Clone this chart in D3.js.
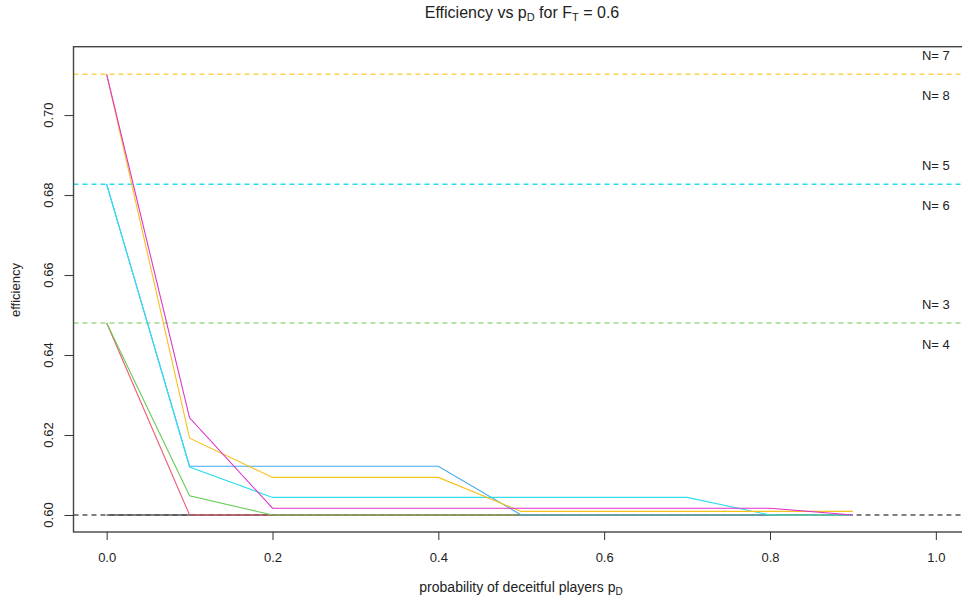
<!DOCTYPE html>
<html>
<head>
<meta charset="utf-8">
<script src="https://cdn.jsdelivr.net/npm/d3@7"></script>
<style>
  body { margin: 0; background: #fff; }
  text { font-family: "Liberation Sans", Arial, sans-serif; fill: #222; }
</style>
</head>
<body>
<div id="chart"></div>
<script>
// probability of deceitful players
var pD = [0, 0.1, 0.2, 0.3, 0.4, 0.5, 0.6, 0.7, 0.8, 0.9];

// efficiency per number of players
var effN2 = [0.600, 0.600, 0.600, 0.600, 0.600, 0.600, 0.600, 0.600, 0.600, 0.600];
var effN3 = [0.648, 0.600, 0.600, 0.600, 0.600, 0.600, 0.600, 0.600, 0.600, 0.600];
var effN4 = [0.648, 0.6048, 0.600, 0.600, 0.600, 0.600, 0.600, 0.600, 0.600, 0.600];
var effN5 = [0.6827, 0.6122, 0.6122, 0.6122, 0.6122, 0.600, 0.600, 0.600, 0.600];
var effN6 = [0.6827, 0.6120, 0.6044, 0.6044, 0.6044, 0.6044, 0.6044, 0.6044, 0.600, 0.600];
var effN7 = [0.7102, 0.6192, 0.6094, 0.6094, 0.6094, 0.6009, 0.6009, 0.6009, 0.6009, 0.6009];
var effN8 = [0.7102, 0.6243, 0.6017, 0.6017, 0.6017, 0.6017, 0.6017, 0.6017, 0.6017, 0.600];

// limit efficiency (dashed reference lines)
var limitVals = [0.600, 0.648, 0.6827, 0.7102];
var limitLabels = [["", "N= 2"], ["N= 3", "N= 4"], ["N= 5", "N= 6"], ["N= 7", "N= 8"]];

var xTicks = [0, 0.2, 0.4, 0.6, 0.8, 1.0];
var yTicks = [0.60, 0.62, 0.64, 0.66, 0.68, 0.70];

var series = [
  { vals: effN2, color: "#555555" },
  { vals: effN3, color: "#EE5A70" },
  { vals: effN4, color: "#66CC55" },
  { vals: effN5, color: "#44AAEE" },
  { vals: effN6, color: "#33DDEE" },
  { vals: effN7, color: "#F5C21B" },
  { vals: effN8, color: "#DD33CC" }
];
var limitColors = ["#555555", "#99DD88", "#22DDEE", "#FFD24D"];

var width = 962, height = 600;

var svg = d3.select("#chart").append("svg")
  .attr("width", width)
  .attr("height", height);

//Scales
var x = d3.scaleLinear().domain([-0.04, 1.04]).range([73.5, 969]);
var y = d3.scaleLinear().domain([0.59575, 0.7171]).range([532, 46.7]);

svg.append("clipPath").attr("id", "plot-clip")
  .append("rect")
  .attr("x", x(-0.04)).attr("y", y(0.7171))
  .attr("width", x(1.04) - x(-0.04)).attr("height", y(0.59575) - y(0.7171));

var plot = svg.append("g").attr("clip-path", "url(#plot-clip)");

//Dashed limit lines
plot.selectAll(".limit")
  .data(limitVals)
  .enter().append("line")
  .attr("class", "limit")
  .attr("x1", x(-0.04)).attr("x2", x(1.04))
  .attr("y1", function(d) { return y(d); })
  .attr("y2", function(d) { return y(d); })
  .style("stroke", function(d, i) { return limitColors[i]; })
  .style("stroke-width", 1.5)
  .style("stroke-dasharray", "5,4");

//Series lines
var line = d3.line()
  .x(function(d, i) { return x(pD[i]); })
  .y(function(d) { return y(d); });

plot.selectAll(".series")
  .data(series)
  .enter().append("path")
  .attr("class", "series")
  .attr("d", function(d) { return line(d.vals); })
  .style("fill", "none")
  .style("stroke", function(d) { return d.color; })
  .style("stroke-width", function(d, i) { return i === 0 ? 1.6 : 1.1; });

//N labels above and below each limit line
limitVals.forEach(function(v, i) {
  plot.append("text")
    .attr("x", x(1.0)).attr("y", y(v) - 14)
    .attr("text-anchor", "middle")
    .style("font-size", "13px")
    .text(limitLabels[i][0]);
  plot.append("text")
    .attr("x", x(1.0)).attr("y", y(v) + 26)
    .attr("text-anchor", "middle")
    .style("font-size", "13px")
    .text(limitLabels[i][1]);
});

//Box
svg.append("rect")
  .attr("x", x(-0.04)).attr("y", y(0.7171))
  .attr("width", x(1.04) - x(-0.04)).attr("height", y(0.59575) - y(0.7171))
  .style("fill", "none")
  .style("stroke", "#444")
  .style("stroke-width", 1.4);

//X axis
var xAxis = svg.append("g")
  .attr("transform", "translate(0," + y(0.59575) + ")")
  .call(d3.axisBottom(x).tickValues(xTicks).tickSize(8).tickPadding(13).tickFormat(d3.format(".1f")));
xAxis.select(".domain").remove();
xAxis.selectAll("line").style("stroke", "#333");
xAxis.selectAll("text").style("font-size", "13px").style("font-family", "Liberation Sans, Arial, sans-serif").attr("fill", "#222");

//Y axis
var yAxis = svg.append("g")
  .attr("transform", "translate(" + x(-0.04) + ",0)")
  .call(d3.axisLeft(y).tickValues(yTicks).tickSize(9).tickFormat(""));
yAxis.select(".domain").remove();
yAxis.selectAll("line").style("stroke", "#333");

svg.selectAll(".ytick-label")
  .data(yTicks)
  .enter().append("text")
  .attr("class", "ytick-label")
  .attr("transform", function(d) { return "translate(53," + y(d) + ") rotate(-90)"; })
  .attr("text-anchor", "middle")
  .style("font-size", "13px")
  .text(function(d) { return d3.format(".2f")(d); });

//Titles
var title = svg.append("text")
  .attr("x", 522).attr("y", 18)
  .attr("text-anchor", "middle")
  .style("font-size", "16px");
title.append("tspan").text("Efficiency vs p");
title.append("tspan").attr("dy", 3).style("font-size", "11px").text("D");
title.append("tspan").attr("dy", -3).text(" for F");
title.append("tspan").attr("dy", 3).style("font-size", "11px").text("T");
title.append("tspan").attr("dy", -3).text(" = 0.6");

var xLabel = svg.append("text")
  .attr("x", 521).attr("y", 592)
  .attr("text-anchor", "middle")
  .style("font-size", "14px");
xLabel.append("tspan").text("probability of deceitful players p");
xLabel.append("tspan").attr("dy", 3).style("font-size", "10px").text("D");

svg.append("text")
  .attr("transform", "translate(20,290) rotate(-90)")
  .attr("text-anchor", "middle")
  .style("font-size", "13px")
  .text("efficiency");
</script>
</body>
</html>
